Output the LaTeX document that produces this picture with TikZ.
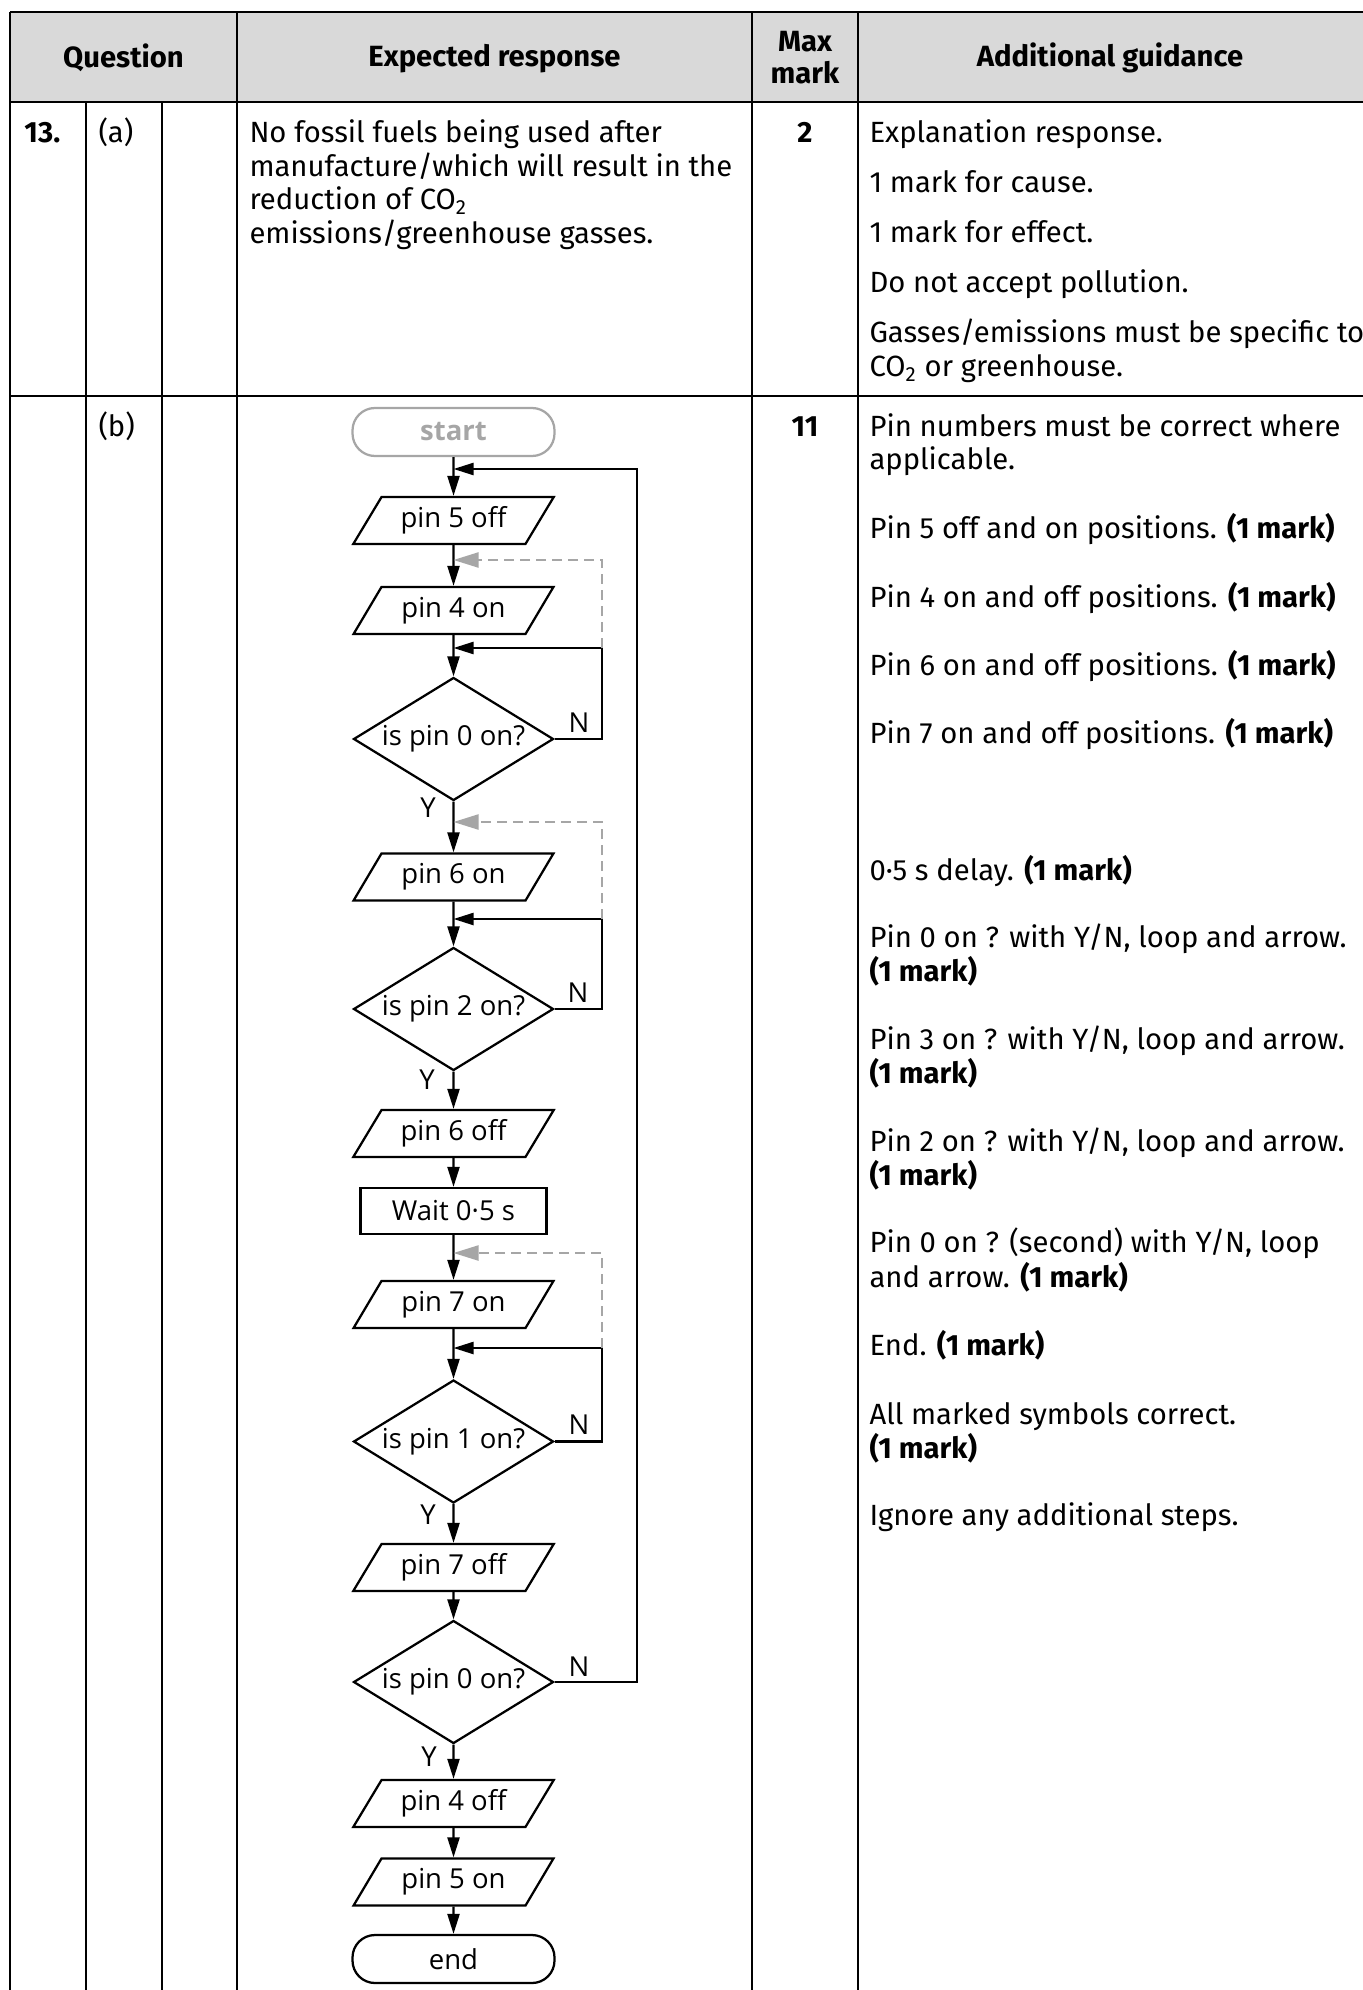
\documentclass[tikz,border=0pt]{standalone}
\usepackage{fontspec}
\setmainfont{Fira Sans}
\newfontfamily\chartfont{Open Sans}
\usetikzlibrary{shapes.geometric,arrows.meta}

\definecolor{headgray}{HTML}{D9D9D9}
\definecolor{altgray}{HTML}{A6A6A6}
\newcommand{\bodysize}{\fontsize{11.7}{14}\selectfont}
\newcommand{\chartsize}{\chartfont\fontsize{11}{13}\selectfont}

\begin{document}
\begin{tikzpicture}[x=0.4pt, y=-0.4pt,
    txt/.style={anchor=base west, inner sep=0pt, font=\bodysize},
    head/.style={anchor=base, inner sep=0pt, font=\bodysize\bfseries},
    iobox/.style={trapezium, trapezium left angle=53, trapezium right angle=127,
        trapezium stretches=true, draw, line width=0.9pt, minimum width=80.4pt,
        minimum height=18.8pt, inner sep=0pt, font=\chartsize},
    decision/.style={diamond, aspect=1.6, draw, line width=0.9pt, minimum width=80pt,
        minimum height=49.2pt, inner sep=0pt, font=\chartsize},
    terminal/.style={rectangle, rounded corners=9pt, draw, line width=0.9pt,
        minimum width=80.8pt, minimum height=19.2pt, inner sep=0pt, font=\chartsize},
    process/.style={rectangle, draw, line width=0.9pt, minimum width=74.4pt,
        minimum height=18.4pt, inner sep=0pt, font=\chartsize},
    yn/.style={inner sep=0pt, font=\chartsize},
    flow/.style={line width=0.9pt, -{Triangle[length=8pt,width=4.8pt]}},
    altflow/.style={altgray, line width=0.9pt, dash pattern=on 4pt off 2.4pt,
        -{Triangle[length=10pt,width=6pt]}}]

\useasboundingbox (0,0) rectangle (1363,1990);

% Header row
\fill[headgray] (10,12) rectangle (1363,102);
\node[head] (hq) at (123.5,68) {Question};
\node[head] (hr) at (494.5,67) {Expected response};
\node[head] (hm1) at (805,52) {Max};
\node[head] (hm2) at (805,84) {mark};
\node[head] (hg) at (1110,67) {Additional guidance};

% Table rules
\begin{scope}[line width=1.1pt]
\draw (10,12) -- (1363,12);
\draw (10,102) -- (1363,102);
\draw (10,396) -- (1363,396);
\draw (10,12) -- (10,1990);
\foreach \x in {86, 162} {
    \draw (\x,102) -- (\x,1990);
}
\foreach \x in {237, 752, 858} {
    \draw (\x,12) -- (\x,1990);
}
\end{scope}

% Part (a)
\node[txt, font=\bodysize\bfseries] (q13) at (24,143) {13.};
\node[txt] (qa) at (98,143) {(a)};
\node[txt] (ra1) at (249,143) {No fossil fuels being used after};
\node[txt] (ra2) at (249,177) {manufacture/which will result in the};
\node[txt] (ra3) at (249,210) {reduction of CO\textsubscript{2}};
\node[txt] (ra4) at (249,244) {emissions/greenhouse gasses.};
\node[head] (ma) at (805,143) {2};
\node[txt] (ga1) at (869,143) {Explanation response.};
\node[txt] (ga2) at (869,193) {1 mark for cause.};
\node[txt] (ga3) at (869,243) {1 mark for effect.};
\node[txt] (ga4) at (869,293) {Do not accept pollution.};
\node[txt] (ga5) at (869,343) {Gasses/emissions must be specific to};
\node[txt] (ga6) at (869,377) {CO\textsubscript{2} or greenhouse.};

% Part (b)
\node[txt] (qb) at (98,437) {(b)};
\node[head] (mb) at (805,437) {11};
\node[txt] (gb1) at (869,437) {Pin numbers must be correct where};
\node[txt] (gb2) at (869,470) {applicable.};
\node[txt] (gb3) at (869,538) {Pin 5 off and on positions. \textbf{(1 mark)}};
\node[txt] (gb4) at (869,607) {Pin 4 on and off positions. \textbf{(1 mark)}};
\node[txt] (gb5) at (869,675) {Pin 6 on and off positions. \textbf{(1 mark)}};
\node[txt] (gb6) at (869,743) {Pin 7 on and off positions. \textbf{(1 mark)}};
\node[txt] (gb7) at (869,880) {0·5 s delay. \textbf{(1 mark)}};
\node[txt] (gb8) at (869,947) {Pin 0 on ? with Y/N, loop and arrow.};
\node[txt] (gb9) at (869,981) {\textbf{(1 mark)}};
\node[txt] (gb10) at (869,1049) {Pin 3 on ? with Y/N, loop and arrow.};
\node[txt] (gb11) at (869,1083) {\textbf{(1 mark)}};
\node[txt] (gb12) at (869,1151) {Pin 2 on ? with Y/N, loop and arrow.};
\node[txt] (gb13) at (869,1185) {\textbf{(1 mark)}};
\node[txt] (gb14) at (869,1252) {Pin 0 on ? (second) with Y/N, loop};
\node[txt] (gb15) at (869,1287) {and arrow. \textbf{(1 mark)}};
\node[txt] (gb16) at (869,1355) {End. \textbf{(1 mark)}};
\node[txt] (gb17) at (869,1424) {All marked symbols correct.};
\node[txt] (gb18) at (869,1458) {\textbf{(1 mark)}};
\node[txt] (gb19) at (869,1525) {Ignore any additional steps.};

% Flowchart
\node[terminal, draw=altgray, text=altgray, font=\chartsize\bfseries] (start) at (453.5,432) {start};
\node[iobox] (p5off) at (453.5,520.5) {pin 5 off};
\node[iobox] (p4on) at (453.5,610.5) {pin 4 on};
\node[decision] (d1) at (453.5,739) {is pin 0 on?};
\node[iobox] (p6on) at (453.5,877) {pin 6 on};
\node[decision] (d2) at (453.5,1009) {is pin 2 on?};
\node[iobox] (p6off) at (453.5,1133.5) {pin 6 off};
\node[process] (wait) at (453.5,1211) {Wait 0·5 s};
\node[iobox] (p7on) at (453.5,1304.5) {pin 7 on};
\node[decision] (d3) at (453.5,1441.5) {is pin 1 on?};
\node[iobox] (p7off) at (453.5,1567.5) {pin 7 off};
\node[decision] (d4) at (453.5,1682) {is pin 0 on?};
\node[iobox] (p4off) at (453.5,1803.5) {pin 4 off};
\node[iobox] (p5on) at (453.5,1882) {pin 5 on};
\node[terminal] (end) at (453.5,1959) {end};

% Y and N labels
\node[yn] (y1) at (428,808) {Y};
\node[yn] (y2) at (427,1080) {Y};
\node[yn] (y3) at (428,1515) {Y};
\node[yn] (y4) at (429,1757) {Y};
\node[yn] (n1) at (579,723) {N};
\node[yn] (n2) at (578,993) {N};
\node[yn] (n3) at (579,1425) {N};
\node[yn] (n4) at (579,1667) {N};

% Joins on the main line and loop corners
\coordinate (j0) at (453.5,469);
\coordinate (g1) at (453.5,560);
\coordinate (j1) at (453.5,648);
\coordinate (g2) at (453.5,822);
\coordinate (j2) at (453.5,919);
\coordinate (g3) at (453.5,1253);
\coordinate (j3) at (453.5,1348);
\coordinate (c0) at (637,469);
\coordinate (c1) at (602,648);
\coordinate (c2) at (602,919);
\coordinate (c3) at (602,1348);

% Main flow
\foreach \a/\b in {start/p5off, p5off/p4on, p4on/d1, d1/p6on, p6on/d2, d2/p6off,
    p6off/wait, wait/p7on, p7on/d3, d3/p7off, p7off/d4, d4/p4off, p4off/p5on, p5on/end} {
    \draw[flow] (\a) -- (\b);
}

% N loops
\draw[flow] (d1.east) -| (c1) -- (j1);
\draw[flow] (d2.east) -| (c2) -- (j2);
\draw[flow] (d3.east) -| (c3) -- (j3);
\draw[flow] (d4.east) -| (c0) -- (j0);

% Alternative (grey) loops
\draw[altflow] (c1) |- (g1);
\draw[altflow] (c2) |- (g2);
\draw[altflow] (c3) |- (g3);

\end{tikzpicture}
\end{document}
